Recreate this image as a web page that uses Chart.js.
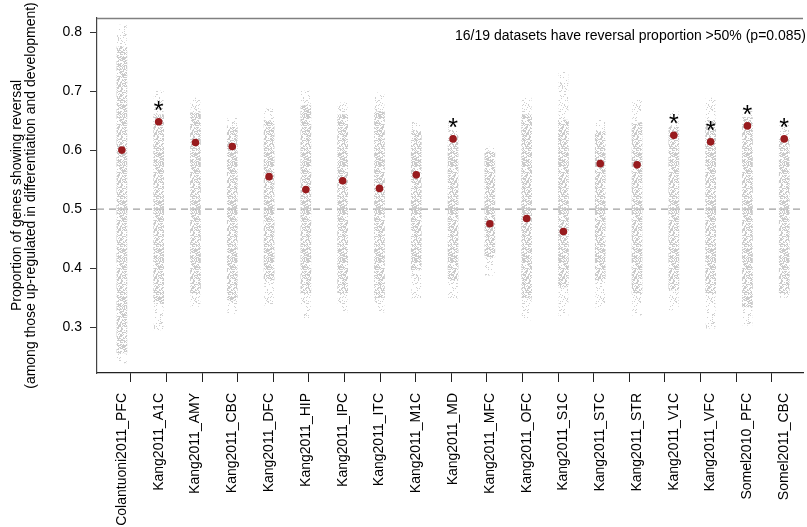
<!DOCTYPE html>
<html>
<head>
<meta charset="utf-8">
<script src="https://cdn.jsdelivr.net/npm/chart.js@4/dist/chart.umd.min.js"></script>
<style>
  html, body { margin: 0; padding: 0; background: #fff; }
  #wrap { width: 807px; height: 527px; }
</style>
</head>
<body>
<div id="wrap"><canvas id="reversalChart" width="807" height="527"></canvas></div>
<script>
// ---------------- data -------------------------------------
const datasets = ['Colantuoni2011_PFC', 'Kang2011_A1C', 'Kang2011_AMY', 'Kang2011_CBC', 'Kang2011_DFC',
    'Kang2011_HIP', 'Kang2011_IPC', 'Kang2011_ITC', 'Kang2011_M1C', 'Kang2011_MD', 'Kang2011_MFC',
    'Kang2011_OFC', 'Kang2011_S1C', 'Kang2011_STC', 'Kang2011_STR', 'Kang2011_V1C', 'Kang2011_VFC',
    'Somel2010_PFC', 'Somel2011_CBC'];

// observed reversal proportion (red dots)
const observed = [0.600, 0.648, 0.613, 0.606, 0.555, 0.533, 0.548, 0.535, 0.558, 0.619,
    0.475, 0.484, 0.462, 0.577, 0.575, 0.625, 0.614, 0.641, 0.619];

// datasets marked with an asterisk
const significant = [0, 1, 0, 0, 0, 0, 0, 0, 0, 1, 0, 0, 0, 0, 0, 1, 1, 1, 1];

// null distribution clouds (grey): sparse tails and dense body
const tailLow  = [0.239, 0.295, 0.335, 0.323, 0.337, 0.315, 0.325, 0.325, 0.349, 0.349,
    0.388, 0.312, 0.318, 0.333, 0.320, 0.329, 0.298, 0.303, 0.350];
const tailHigh = [0.812, 0.700, 0.688, 0.654, 0.670, 0.700, 0.680, 0.697, 0.647, 0.645,
    0.605, 0.688, 0.732, 0.651, 0.685, 0.665, 0.688, 0.670, 0.642];
const bodyLow  = [0.256, 0.340, 0.357, 0.346, 0.380, 0.357, 0.357, 0.350, 0.397, 0.380,
    0.419, 0.350, 0.368, 0.380, 0.357, 0.363, 0.357, 0.334, 0.357];
const bodyHigh = [0.775, 0.660, 0.663, 0.640, 0.650, 0.675, 0.660, 0.665, 0.630, 0.625,
    0.597, 0.660, 0.651, 0.630, 0.646, 0.640, 0.650, 0.655, 0.620];

const yTicks = [0.3, 0.4, 0.5, 0.6, 0.7, 0.8];
const REFERENCE = 0.5;
const NOTE = '16/19 datasets have reversal proportion >50% (p=0.085)';
const Y_MIN = 0.222, Y_MAX = 0.824;

// ---------------- chart -----------------
Chart.defaults.font.family = '"Liberation Sans", Arial, Helvetica, sans-serif';
Chart.defaults.font.size = 14;
Chart.defaults.color = '#000';

const idx = datasets.map((_, i) => i);

// fixed speckle texture so the grey bands look like jittered dots
function speckle(density, color) {
    const c = document.createElement('canvas');
    c.width = 12; c.height = 48;
    const g = c.getContext('2d');
    g.fillStyle = color;
    for (let y = 0; y < c.height; y++) {
        for (let x = 0; x < c.width; x++) {
            let h = Math.imul(x + 1, 374761393) ^ Math.imul(y + 7, 668265263);
            h = Math.imul(h ^ (h >>> 13), 1274126177);
            h = (h ^ (h >>> 16)) >>> 0;
            if ((h % 1000) / 1000 < density) g.fillRect(x, y, 1, 1);
        }
    }
    return g.createPattern(c, 'repeat');
}

// dashed reference line, top frame line, note and asterisks
const decorations = {
    id: 'decorations',
    beforeDatasetsDraw(chart) {
        const { ctx, chartArea } = chart;
        const y = chart.scales.y.getPixelForValue(REFERENCE);
        ctx.save();
        ctx.strokeStyle = '#a0a0a0';
        ctx.lineWidth = 1.3;
        ctx.setLineDash([7, 5]);
        ctx.beginPath();
        ctx.moveTo(chartArea.left, y);
        ctx.lineTo(chartArea.right, y);
        ctx.stroke();
        ctx.restore();
    },
    afterDatasetsDraw(chart) {
        const { ctx, chartArea } = chart;
        ctx.save();
        // top frame
        ctx.strokeStyle = '#808080';
        ctx.lineWidth = 1.5;
        ctx.beginPath();
        ctx.moveTo(chartArea.left, chartArea.top + 0.5);
        ctx.lineTo(chartArea.right, chartArea.top + 0.5);
        ctx.stroke();

        // note
        ctx.fillStyle = '#000';
        ctx.font = '14px "Liberation Sans", Arial, sans-serif';
        ctx.textAlign = 'right';
        ctx.textBaseline = 'alphabetic';
        ctx.fillText(NOTE, chartArea.right + 3, chartArea.top + 22);

        // asterisks above significant datasets
        const meta = chart.getDatasetMeta(0);
        ctx.font = '25px "Liberation Sans", Arial, sans-serif';
        ctx.textAlign = 'center';
        meta.data.forEach((pt, i) => {
            if (significant[i]) ctx.fillText('*', pt.x, pt.y - 3);
        });
        ctx.restore();
    }
};

new Chart(document.getElementById('reversalChart'), {
    type: 'scatter',
    data: {
        datasets: [
            {
                type: 'scatter',
                label: 'observed',
                data: idx.map(i => ({ x: i, y: observed[i] })),
                xAxisID: 'xd',
                yAxisID: 'y',
                backgroundColor: '#981b1e',
                borderWidth: 0,
                pointRadius: 3.8,
                order: 0
            },
            {
                type: 'bar',
                label: 'body',
                data: idx.map(i => ({ x: i, y: [bodyLow[i], bodyHigh[i]] })),
                xAxisID: 'xd',
                yAxisID: 'y',
                backgroundColor: speckle(0.5, '#cbcbcb'),
                borderWidth: 0,
                barThickness: 10,
                grouped: false,
                order: 1
            },
            {
                type: 'bar',
                label: 'tail',
                data: idx.map(i => ({ x: i, y: [tailLow[i], tailHigh[i]] })),
                xAxisID: 'xd',
                yAxisID: 'y',
                backgroundColor: speckle(0.15, '#d0d0d0'),
                borderWidth: 0,
                barThickness: 9,
                grouped: false,
                order: 2
            }
        ]
    },
    options: {
        responsive: false,
        animation: false,
        devicePixelRatio: 1,
        events: [],
        layout: { padding: { top: 18, left: 0, right: 0, bottom: 0 } },
        plugins: { legend: { display: false }, tooltip: { enabled: false } },
        scales: {
            // data positions (hidden)
            xd: {
                type: 'linear', display: false, min: -0.676, max: 18.51, offset: false
            },
            // tick marks on the bottom axis
            x: {
                type: 'linear', position: 'bottom', min: -0.95, max: 18.88, offset: false,
                afterBuildTicks: s => { s.ticks = idx.map(v => ({ value: v })); },
                afterFit: s => { s.height = 154; s.paddingLeft = 0; s.paddingRight = 0; },
                ticks: { display: false },
                grid: { offset: false, drawOnChartArea: false, drawTicks: true, tickLength: 9, color: '#222', lineWidth: 1 },
                border: { display: true, color: '#222', width: 1.2 }
            },
            // rotated dataset names
            xl: {
                type: 'linear', position: { y: Y_MIN }, min: -0.676, max: 18.51, offset: false,
                afterBuildTicks: s => { s.ticks = idx.map(v => ({ value: v })); },
                afterFit: s => { s.paddingLeft = 0; s.paddingRight = 0; },
                ticks: {
                    autoSkip: false, minRotation: 90, maxRotation: 90, padding: 20,
                    callback: v => datasets[v]
                },
                grid: { display: false, drawTicks: false },
                border: { display: false }
            },
            y: {
                type: 'linear', position: 'left', min: Y_MIN, max: Y_MAX, beginAtZero: false,
                afterBuildTicks: s => { s.ticks = yTicks.map(v => ({ value: v })); },
                afterFit: s => { s.width = 97; },
                ticks: { padding: 8, callback: v => v.toFixed(1) },
                grid: { drawOnChartArea: false, drawTicks: true, tickLength: 7, color: '#333' },
                border: { display: true, color: '#444', width: 1.2 },
                title: {
                    display: true,
                    text: ['Proportion of genes showing reversal',
                        '(among those up-regulated in differentiation and development)'],
                    font: { size: 14, lineHeight: 1.0 },
                    padding: { top: 10, bottom: 0 }
                }
            }
        }
    },
    plugins: [decorations]
});
</script>
</body>
</html>
